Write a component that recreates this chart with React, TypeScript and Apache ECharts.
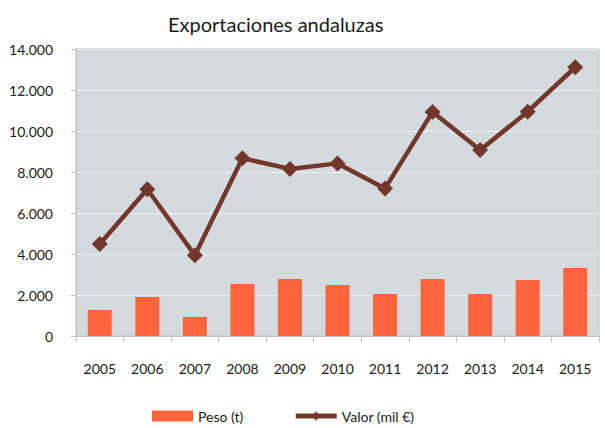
import React, { useEffect, useRef } from "react";
import * as echarts from "echarts";

const years = ["2005", "2006", "2007", "2008", "2009", "2010", "2011", "2012", "2013", "2014", "2015"];
const peso = [1270, 1900, 930, 2540, 2780, 2490, 2050, 2780, 2050, 2730, 3320];
const valor = [4490, 7160, 3940, 8670, 8150, 8420, 7200, 10930, 9070, 10940, 13110];

const fmt = (v: number) => String(v).replace(/\B(?=(\d{3})+(?!\d))/g, ".");

export default function App() {
  const ref = useRef<HTMLDivElement>(null);
  useEffect(() => {
    if (!ref.current) return;
    const chart = echarts.init(ref.current, null, { renderer: "svg" });
    const font = "Lato, 'Open Sans', sans-serif";
    chart.setOption({
      animation: false,
      backgroundColor: "#ffffff",
      textStyle: { fontFamily: font },
      title: {
        text: "Exportaciones andaluzas",
        left: 163,
        top: 9,
        textStyle: { fontFamily: font, fontSize: 20, fontWeight: "normal", color: "#1a1a1a" },
      },
      legend: {
        bottom: 0,
        left: 147,
        itemWidth: 41,
        itemHeight: 11,
        itemGap: 50,
        textStyle: { fontFamily: font, fontSize: 14, color: "#1a1a1a" },
        lineStyle: { width: 5 },
        data: [
          { name: "Peso (t)", icon: "rect" },
          { name: "Valor (mil €)", lineStyle: { width: 5, color: "#72362b" } },
        ],
      },
      grid: {
        left: 76,
        right: 6,
        top: 49,
        bottom: 92,
        show: true,
        backgroundColor: "#d3dbde",
        borderColor: "#bfbfbf",
        borderWidth: 1,
      },
      xAxis: {
        type: "category",
        data: years,
        boundaryGap: true,
        axisLine: { lineStyle: { color: "#bfbfbf", width: 1 } },
        axisTick: { show: true, length: 6, interval: 0, lineStyle: { color: "#bfbfbf" } },
        axisLabel: { margin: 25, fontSize: 14, color: "#1a1a1a", fontFamily: font },
      },
      yAxis: {
        type: "value",
        min: 0,
        max: 14000,
        interval: 2000,
        axisLine: { show: true, lineStyle: { color: "#bfbfbf", width: 1 } },
        axisTick: { show: true, length: 5, lineStyle: { color: "#bfbfbf" } },
        axisLabel: { margin: 23, fontSize: 14, color: "#1a1a1a", fontFamily: font, formatter: fmt },
        splitLine: { show: true, lineStyle: { color: "#eef1f2", width: 1 } },
      },
      series: [
        {
          name: "Peso (t)",
          type: "bar",
          data: peso,
          barWidth: 24,
          itemStyle: { color: "#ff653d" },
        },
        {
          name: "Valor (mil €)",
          type: "line",
          data: valor,
          symbol: "diamond",
          symbolSize: 16,
          lineStyle: { color: "#72362b", width: 4.5 },
          itemStyle: { color: "#72362b" },
          z: 3,
        },
      ],
    });
    return () => chart.dispose();
  }, []);
  return <div ref={ref} style={{ width: 605, height: 428, position: "absolute", left: 0, top: 0 }} />;
}
